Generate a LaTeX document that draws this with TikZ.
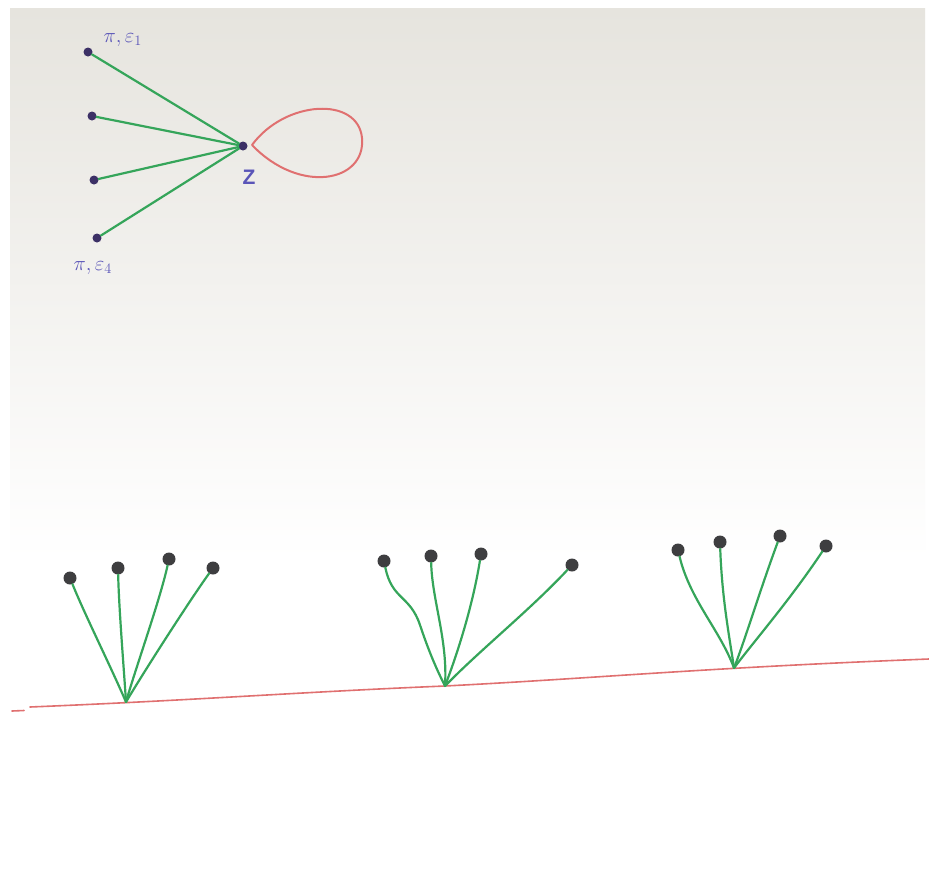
\documentclass[tikz,border=0pt]{standalone}
\usepackage{fontspec}
\setmainfont{Liberation Sans}
\begin{document}
\begin{tikzpicture}[x=1pt,y=-1pt,
  pen/.style={line width=2.2pt, line cap=round},
  greenline/.style={pen, draw=edgegreen},
  redline/.style={pen, draw=loopred, line width=2pt},
  smalldot/.style={circle, fill=dotpurple, inner sep=0pt, minimum size=9pt},
  bigdot/.style={circle, fill=dotgray, inner sep=0pt, minimum size=13pt},
  lbl/.style={text=labelblue, font=\fontsize{21}{24}\selectfont}
]
\definecolor{edgegreen}{HTML}{35A55A}
\definecolor{loopred}{HTML}{E07070}
\definecolor{dotpurple}{HTML}{3C3066}
\definecolor{dotgray}{HTML}{3E3E40}
\definecolor{labelblue}{HTML}{5A55B8}
\definecolor{paper}{HTML}{E6E4DE}
\useasboundingbox (0,0) rectangle (929,881);
\fill[white] (0,0) rectangle (929,881);
\shade[top color=paper, bottom color=white] (10,8) rectangle (925,560);
\fill[white] (10,560) rectangle (925,881);

% top-left star with loop
\node[smalldot] (z) at (243,146) {};
\node[smalldot] (p1) at (88,52) {};
\node[smalldot] (p2) at (92,116) {};
\node[smalldot] (p3) at (94,180) {};
\node[smalldot] (p4) at (97,238) {};
\node[lbl, anchor=west] (l1) at (100,40) {$\pi, \varepsilon_1$};
\node[lbl] (lz) at (249,177) {\textbf{Z}};
\node[lbl, anchor=west] (l4) at (70,268) {$\pi, \varepsilon_4$};
\foreach \p in {p1,p2,p3,p4}{\draw[greenline] (\p) -- (z);}
\coordinate (ls) at (252,145);
\draw[redline] (ls) .. controls (285,100) and (358,96) .. (362,138)
  .. controls (366,182) and (300,195) .. (ls);

% baseline
\coordinate (bl) at (30,707);
\coordinate (br) at (929,659);
\draw[redline, line width=1.6pt] (12,711) -- (24,710.5);
\draw[redline, line width=1.6pt] (bl) .. controls (200,700) and (300,692) .. (445,686)
  .. controls (600,678) and (700,668) .. (br);

% tree 1
\coordinate (r1) at (126,702);
\node[bigdot] (a1) at (70,578) {};
\node[bigdot] (a2) at (118,568) {};
\node[bigdot] (a3) at (169,559) {};
\node[bigdot] (a4) at (213,568) {};
\draw[greenline] (a1) .. controls (85,615) and (110,665) .. (r1);
\draw[greenline] (a2) .. controls (119,610) and (124,670) .. (r1);
\draw[greenline] (a3) .. controls (160,600) and (135,670) .. (r1);
\draw[greenline] (a4) .. controls (190,600) and (145,670) .. (r1);

% tree 2
\coordinate (r2) at (445,686);
\node[bigdot] (b1) at (384,561) {};
\node[bigdot] (b2) at (431,556) {};
\node[bigdot] (b3) at (481,554) {};
\node[bigdot] (b4) at (572,565) {};
\draw[greenline] (b1) .. controls (392,600) and (410,595) .. (420,625) .. controls (430,655) and (438,672) .. (r2);
\draw[greenline] (b2) .. controls (432,600) and (448,640) .. (r2);
\draw[greenline] (b3) .. controls (472,610) and (455,660) .. (r2);
\draw[greenline] (b4) .. controls (530,610) and (480,650) .. (r2);

% tree 3
\coordinate (r3) at (734,668);
\node[bigdot] (c1) at (678,550) {};
\node[bigdot] (c2) at (720,542) {};
\node[bigdot] (c3) at (780,536) {};
\node[bigdot] (c4) at (826,546) {};
\draw[greenline] (c1) .. controls (690,600) and (720,630) .. (r3);
\draw[greenline] (c2) .. controls (722,600) and (730,640) .. (r3);
\draw[greenline] (c3) .. controls (760,590) and (745,640) .. (r3);
\draw[greenline] (c4) .. controls (790,600) and (755,640) .. (r3);
\end{tikzpicture}
\end{document}
